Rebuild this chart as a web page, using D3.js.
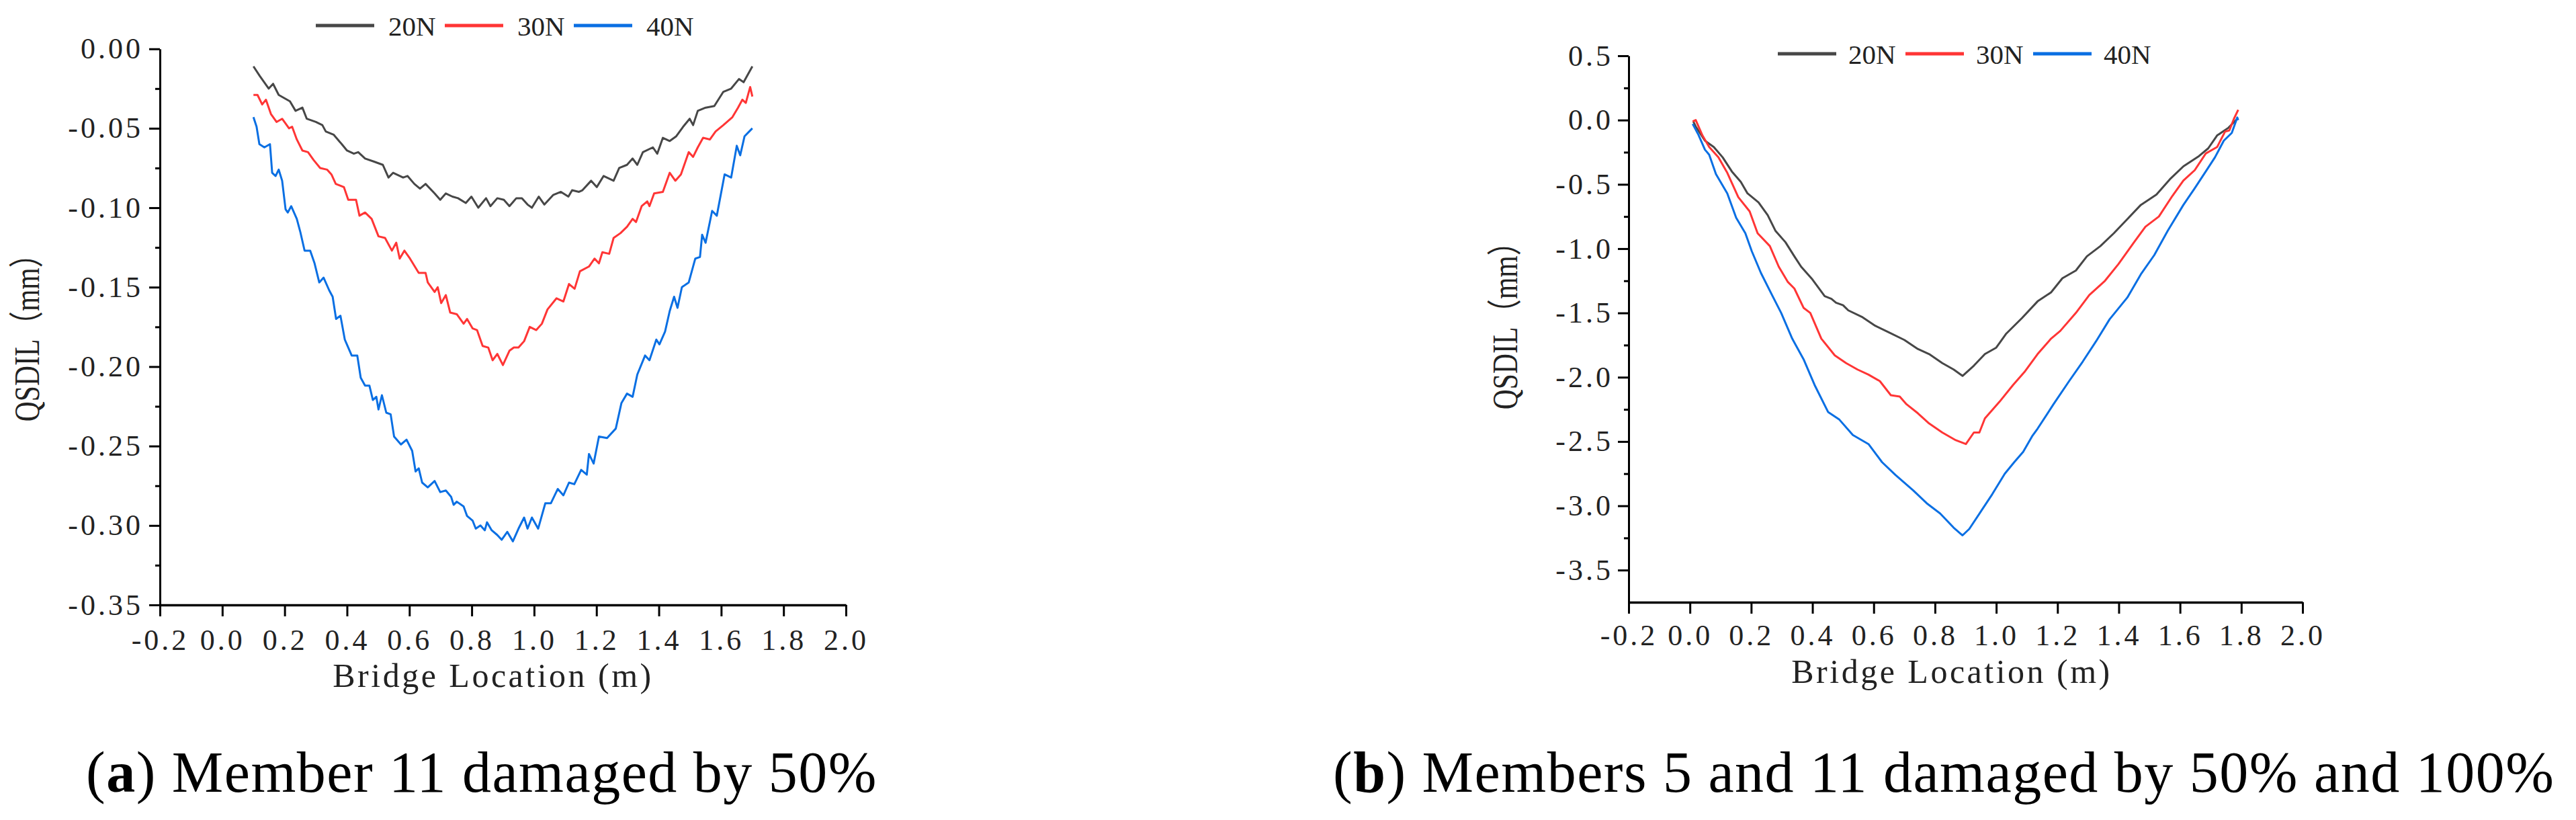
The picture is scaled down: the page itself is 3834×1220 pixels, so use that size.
<!DOCTYPE html>
<html>
<head>
<meta charset="utf-8">
<script src="https://cdn.jsdelivr.net/npm/d3@7"></script>
<style>
body { margin: 0; background: #fff; }
svg text { font-family: "Liberation Serif", "Times New Roman", "Noto Sans CJK SC", serif; fill: #222; }
</style>
</head>
<body>
<svg id="chart"></svg>
<script>
// common things
let xTicks = [-0.2, 0.0, 0.2, 0.4, 0.6, 0.8, 1.0, 1.2, 1.4, 1.6, 1.8, 2.0];
let seriesNames = ["20N", "30N", "40N"];
let seriesColors = ["#474747", "#ff3535", "#0a6fe3"];

// panel (a): member 11 damaged by 50%
let a20 = [[0.100,-0.011],[0.120,-0.017],[0.149,-0.025],[0.163,-0.022],[0.181,-0.029],[0.199,-0.031],[0.217,-0.033],[0.235,-0.039],[0.257,-0.037],[0.271,-0.044],[0.300,-0.046],[0.321,-0.048],[0.332,-0.052],[0.357,-0.054],[0.379,-0.059],[0.400,-0.064],[0.422,-0.066],[0.436,-0.065],[0.458,-0.069],[0.487,-0.071],[0.515,-0.073],[0.533,-0.081],[0.548,-0.078],[0.580,-0.081],[0.594,-0.080],[0.616,-0.085],[0.634,-0.088],[0.652,-0.085],[0.681,-0.091],[0.699,-0.095],[0.717,-0.091],[0.738,-0.093],[0.756,-0.094],[0.781,-0.097],[0.799,-0.093],[0.821,-0.100],[0.846,-0.094],[0.860,-0.099],[0.882,-0.094],[0.903,-0.095],[0.921,-0.099],[0.943,-0.094],[0.961,-0.094],[0.979,-0.098],[0.993,-0.100],[1.015,-0.093],[1.033,-0.098],[1.061,-0.092],[1.086,-0.090],[1.110,-0.093],[1.122,-0.089],[1.144,-0.090],[1.155,-0.089],[1.183,-0.083],[1.201,-0.087],[1.223,-0.080],[1.255,-0.083],[1.273,-0.075],[1.298,-0.073],[1.316,-0.069],[1.331,-0.073],[1.349,-0.065],[1.381,-0.062],[1.395,-0.066],[1.413,-0.056],[1.435,-0.058],[1.456,-0.055],[1.478,-0.049],[1.499,-0.044],[1.510,-0.048],[1.525,-0.039],[1.550,-0.037],[1.578,-0.036],[1.607,-0.027],[1.632,-0.025],[1.657,-0.019],[1.672,-0.021],[1.700,-0.011]];
let a30 = [[0.100,-0.029],[0.113,-0.029],[0.128,-0.035],[0.140,-0.032],[0.156,-0.041],[0.174,-0.046],[0.192,-0.044],[0.214,-0.050],[0.224,-0.049],[0.239,-0.057],[0.257,-0.064],[0.275,-0.065],[0.293,-0.070],[0.314,-0.075],[0.336,-0.076],[0.350,-0.079],[0.364,-0.085],[0.390,-0.087],[0.404,-0.095],[0.429,-0.095],[0.440,-0.105],[0.458,-0.103],[0.479,-0.107],[0.501,-0.118],[0.522,-0.119],[0.544,-0.127],[0.558,-0.122],[0.569,-0.132],[0.584,-0.127],[0.602,-0.132],[0.630,-0.141],[0.652,-0.141],[0.659,-0.147],[0.681,-0.153],[0.691,-0.150],[0.702,-0.160],[0.717,-0.155],[0.731,-0.166],[0.752,-0.167],[0.774,-0.173],[0.785,-0.170],[0.803,-0.176],[0.817,-0.177],[0.835,-0.187],[0.853,-0.188],[0.867,-0.196],[0.882,-0.192],[0.900,-0.199],[0.921,-0.190],[0.935,-0.188],[0.950,-0.188],[0.968,-0.184],[0.986,-0.175],[1.007,-0.177],[1.025,-0.173],[1.043,-0.164],[1.072,-0.157],[1.094,-0.159],[1.112,-0.148],[1.130,-0.151],[1.147,-0.140],[1.176,-0.137],[1.194,-0.132],[1.208,-0.135],[1.219,-0.128],[1.241,-0.129],[1.255,-0.119],[1.277,-0.116],[1.298,-0.112],[1.316,-0.107],[1.327,-0.109],[1.345,-0.099],[1.363,-0.096],[1.370,-0.099],[1.385,-0.091],[1.413,-0.090],[1.435,-0.078],[1.453,-0.083],[1.471,-0.079],[1.496,-0.065],[1.510,-0.068],[1.525,-0.062],[1.542,-0.056],[1.564,-0.057],[1.582,-0.052],[1.607,-0.048],[1.636,-0.043],[1.654,-0.037],[1.668,-0.032],[1.679,-0.034],[1.693,-0.024],[1.700,-0.030]];
let a40 = [[0.100,-0.043],[0.110,-0.049],[0.119,-0.060],[0.135,-0.062],[0.153,-0.060],[0.160,-0.078],[0.171,-0.080],[0.181,-0.076],[0.192,-0.083],[0.203,-0.101],[0.210,-0.103],[0.221,-0.099],[0.239,-0.107],[0.250,-0.115],[0.264,-0.127],[0.282,-0.127],[0.296,-0.135],[0.311,-0.147],[0.325,-0.144],[0.343,-0.152],[0.354,-0.156],[0.365,-0.170],[0.379,-0.168],[0.393,-0.183],[0.415,-0.193],[0.433,-0.193],[0.444,-0.207],[0.458,-0.212],[0.472,-0.212],[0.483,-0.221],[0.494,-0.219],[0.501,-0.227],[0.512,-0.218],[0.526,-0.229],[0.540,-0.230],[0.551,-0.244],[0.573,-0.249],[0.591,-0.246],[0.609,-0.253],[0.620,-0.266],[0.630,-0.264],[0.641,-0.273],[0.659,-0.276],[0.681,-0.272],[0.699,-0.279],[0.717,-0.278],[0.734,-0.282],[0.742,-0.287],[0.752,-0.285],[0.774,-0.288],[0.785,-0.294],[0.803,-0.297],[0.813,-0.302],[0.828,-0.300],[0.842,-0.303],[0.849,-0.298],[0.864,-0.303],[0.882,-0.306],[0.896,-0.309],[0.914,-0.304],[0.932,-0.310],[0.950,-0.302],[0.968,-0.295],[0.979,-0.302],[0.993,-0.295],[1.013,-0.302],[1.036,-0.286],[1.054,-0.286],[1.076,-0.277],[1.094,-0.281],[1.112,-0.273],[1.129,-0.274],[1.151,-0.265],[1.169,-0.268],[1.176,-0.255],[1.191,-0.261],[1.208,-0.244],[1.234,-0.245],[1.262,-0.239],[1.280,-0.223],[1.298,-0.217],[1.316,-0.219],[1.331,-0.205],[1.356,-0.193],[1.370,-0.196],[1.392,-0.183],[1.402,-0.186],[1.420,-0.178],[1.435,-0.165],[1.449,-0.156],[1.460,-0.163],[1.474,-0.150],[1.496,-0.147],[1.517,-0.132],[1.532,-0.131],[1.539,-0.117],[1.550,-0.122],[1.571,-0.102],[1.586,-0.105],[1.611,-0.079],[1.632,-0.081],[1.650,-0.061],[1.661,-0.067],[1.675,-0.055],[1.690,-0.052],[1.700,-0.050]];
let aYTicks = [0, -0.05, -0.10, -0.15, -0.20, -0.25, -0.30, -0.35];
let aYMinor = [-0.025, -0.075, -0.125, -0.175, -0.225, -0.275, -0.325];

// panel (b): members 5 and 11 damaged
let b20 = [[0.011,-0.01],[0.019,-0.05],[0.049,-0.16],[0.078,-0.21],[0.107,-0.29],[0.137,-0.40],[0.166,-0.48],[0.188,-0.57],[0.224,-0.64],[0.254,-0.74],[0.279,-0.86],[0.312,-0.95],[0.341,-1.06],[0.363,-1.14],[0.400,-1.24],[0.440,-1.37],[0.462,-1.39],[0.477,-1.42],[0.500,-1.44],[0.517,-1.48],[0.561,-1.53],[0.605,-1.60],[0.649,-1.65],[0.700,-1.71],[0.744,-1.78],[0.781,-1.82],[0.824,-1.89],[0.861,-1.94],[0.890,-1.99],[0.927,-1.91],[0.963,-1.82],[1.000,-1.77],[1.033,-1.66],[1.084,-1.54],[1.135,-1.41],[1.179,-1.34],[1.216,-1.23],[1.260,-1.17],[1.296,-1.06],[1.340,-0.98],[1.384,-0.88],[1.428,-0.77],[1.472,-0.66],[1.523,-0.58],[1.567,-0.46],[1.611,-0.36],[1.662,-0.28],[1.692,-0.22],[1.721,-0.12],[1.758,-0.06],[1.787,0.01]];
let b30 = [[0.009,-0.01],[0.019,0.00],[0.041,-0.12],[0.063,-0.21],[0.093,-0.29],[0.122,-0.41],[0.158,-0.60],[0.195,-0.71],[0.221,-0.88],[0.261,-0.98],[0.290,-1.14],[0.320,-1.26],[0.341,-1.31],[0.371,-1.46],[0.393,-1.50],[0.429,-1.70],[0.473,-1.83],[0.510,-1.89],[0.547,-1.94],[0.583,-1.98],[0.620,-2.03],[0.656,-2.14],[0.685,-2.15],[0.707,-2.21],[0.744,-2.28],[0.781,-2.36],[0.824,-2.43],[0.868,-2.49],[0.901,-2.52],[0.927,-2.43],[0.945,-2.43],[0.963,-2.32],[1.011,-2.19],[1.055,-2.06],[1.092,-1.96],[1.135,-1.82],[1.179,-1.70],[1.209,-1.64],[1.260,-1.50],[1.304,-1.36],[1.355,-1.25],[1.399,-1.12],[1.450,-0.95],[1.487,-0.83],[1.531,-0.75],[1.575,-0.59],[1.611,-0.47],[1.648,-0.39],[1.684,-0.26],[1.721,-0.21],[1.747,-0.09],[1.761,-0.08],[1.776,0.01],[1.790,0.08]];
let b40 = [[0.009,-0.03],[0.027,-0.11],[0.049,-0.23],[0.063,-0.27],[0.085,-0.42],[0.122,-0.57],[0.151,-0.76],[0.181,-0.88],[0.202,-1.02],[0.232,-1.19],[0.268,-1.36],[0.298,-1.50],[0.334,-1.70],[0.371,-1.86],[0.407,-2.06],[0.451,-2.27],[0.488,-2.33],[0.532,-2.45],[0.583,-2.52],[0.627,-2.66],[0.671,-2.76],[0.729,-2.88],[0.773,-2.98],[0.817,-3.06],[0.861,-3.17],[0.890,-3.23],[0.912,-3.18],[0.951,-3.04],[0.987,-2.91],[1.028,-2.75],[1.059,-2.66],[1.088,-2.58],[1.117,-2.46],[1.135,-2.40],[1.187,-2.21],[1.238,-2.03],[1.282,-1.88],[1.326,-1.72],[1.370,-1.55],[1.428,-1.38],[1.472,-1.20],[1.516,-1.05],[1.560,-0.86],[1.611,-0.66],[1.648,-0.53],[1.684,-0.40],[1.714,-0.29],[1.743,-0.16],[1.769,-0.10],[1.787,0.02],[1.790,0.00]];
let bYTicks = [0.5, 0.0, -0.5, -1.0, -1.5, -2.0, -2.5, -3.0, -3.5];
let bYMinor = [0.25, -0.25, -0.75, -1.25, -1.75, -2.25, -2.75, -3.25];

let svg = d3.select("#chart")
    .attr("width", 3834)
    .attr("height", 1220);

svg.append("rect").attr("width", 3834).attr("height", 1220).attr("fill", "#fff");

function fmt(n) {
    return d => d3.format("." + n + "f")(d).replace("\u2212", "-");
}

function drawPanel(p) {
    let x = d3.scaleLinear().domain([-0.2, 2.0]).range([p.left, p.right]);
    let y = d3.scaleLinear().domain(p.yDomain).range([p.bottom, p.top]);

    // ось OX
    let gx = svg.append("g")
        .attr("transform", `translate(0, ${p.bottom})`)
        .call(d3.axisBottom(x).tickValues(xTicks).tickSize(17).tickSizeOuter(0)
            .tickPadding(p.xPad).tickFormat(fmt(1)))
        .attr("font-family", null)
        .attr("font-size", 44);
    gx.select(".domain").attr("stroke-width", 3.5);
    gx.selectAll(".tick line").attr("stroke-width", 3);
    gx.selectAll("text").attr("letter-spacing", 4);

    // ось OY
    let gy = svg.append("g")
        .attr("transform", `translate(${p.left}, 0)`)
        .call(d3.axisLeft(y).tickValues(p.yTicks).tickSize(16).tickSizeOuter(0)
            .tickPadding(p.yPad).tickFormat(fmt(p.yDec)))
        .attr("font-family", null)
        .attr("font-size", 44);
    gy.select(".domain").attr("stroke-width", 3);
    gy.selectAll(".tick line").attr("stroke-width", 3);
    gy.selectAll("text").attr("letter-spacing", 4);

    // minor ticks
    let gm = svg.append("g")
        .attr("transform", `translate(${p.left}, 0)`)
        .call(d3.axisLeft(y).tickValues(p.yMinor).tickSize(7).tickFormat(""));
    gm.select(".domain").remove();
    gm.selectAll(".tick line").attr("stroke-width", 3);

    // lines
    let line = d3.line().x(d => x(d[0])).y(d => y(d[1]));
    p.series.forEach((s, i) => {
        svg.append("path")
            .datum(s)
            .attr("d", line)
            .attr("fill", "none")
            .attr("stroke", seriesColors[i])
            .attr("stroke-width", 3)
            .attr("stroke-linejoin", "round");
    });

    // legend
    seriesNames.forEach((name, i) => {
        let lx = p.legX + i * p.legStep;
        svg.append("line")
            .attr("x1", lx).attr("x2", lx + 87)
            .attr("y1", p.legY).attr("y2", p.legY)
            .attr("stroke", seriesColors[i])
            .attr("stroke-width", 5);
        svg.append("text")
            .attr("x", lx + p.legText)
            .attr("y", p.legY + 15)
            .attr("font-size", 41)
            .text(name);
    });

    // axis titles
    svg.append("text")
        .attr("x", p.xTitleX)
        .attr("y", p.xTitleY)
        .attr("text-anchor", "middle")
        .attr("font-size", 50)
        .attr("letter-spacing", 3.5)
        .text("Bridge Location (m)");

    svg.append("g")
        .attr("transform", `translate(${p.yTitleX}, ${p.yTitleY}) rotate(-90) scale(0.8, 1)`)
        .append("text")
        .attr("text-anchor", "middle")
        .attr("font-size", 52)
        .text("QSDIL（mm）");

    // caption
    let cap = svg.append("text")
        .attr("x", p.capX)
        .attr("y", 1178)
        .attr("font-size", 86)
        .attr("letter-spacing", 1.5)
        .style("fill", "#000");
    cap.append("tspan").text("(");
    cap.append("tspan").attr("font-weight", "bold").text(p.capLetter);
    cap.append("tspan").text(") " + p.caption);
}

drawPanel({
    left: 238, right: 1259, top: 72.7, bottom: 900,
    yDomain: [-0.35, 0], yTicks: aYTicks, yMinor: aYMinor, yDec: 2,
    xPad: 19, yPad: 9,
    series: [a20, a30, a40],
    legX: 470, legY: 38, legStep: 192, legText: 108,
    xTitleX: 734, xTitleY: 1022,
    yTitleX: 58, yTitleY: 492,
    capX: 128, capLetter: "a", caption: "Member 11 damaged by 50%"
});

drawPanel({
    left: 2424, right: 3427, top: 83, bottom: 896,
    yDomain: [-3.75, 0.5], yTicks: bYTicks, yMinor: bYMinor, yDec: 1,
    xPad: 16, yPad: 7,
    series: [b20, b30, b40],
    legX: 2646, legY: 80, legStep: 190, legText: 105,
    xTitleX: 2905, xTitleY: 1016,
    yTitleX: 2258, yTitleY: 474,
    capX: 1984, capLetter: "b", caption: "Members 5 and 11 damaged by 50% and 100%"
});
</script>
</body>
</html>
